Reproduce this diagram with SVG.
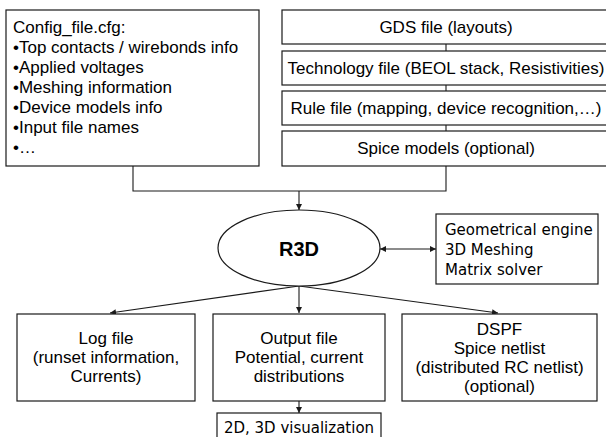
<svg xmlns="http://www.w3.org/2000/svg" width="606" height="437" viewBox="0 0 606 437">
  <defs>
    <style>
      .box { fill: #ffffff; stroke: #1a1a1a; stroke-width: 1.2; }
      .conn { fill: none; stroke: #1a1a1a; stroke-width: 1.1; }
      .t { font-family: "Liberation Sans", Arial, sans-serif; font-size: 17px; fill: #000; }
      .c { text-anchor: middle; }
      .th { font-family: "DejaVu Sans", Verdana, sans-serif; font-size: 15px; fill: #000; }
      .b { font-family: "Liberation Sans", Arial, sans-serif; font-size: 20px; font-weight: bold; fill: #000; text-anchor: middle; }
    </style>
    <marker id="arr" viewBox="0 0 10 10" refX="10" refY="5" markerWidth="6" markerHeight="6" markerUnits="userSpaceOnUse" orient="auto">
      <path d="M0,0 L10,5 L0,10 z" fill="#1a1a1a"/>
    </marker>
    <marker id="arrs" viewBox="0 0 10 10" refX="0" refY="5" markerWidth="6" markerHeight="6" markerUnits="userSpaceOnUse" orient="auto">
      <path d="M10,0 L0,5 L10,10 z" fill="#1a1a1a"/>
    </marker>
  </defs>
  <rect width="606" height="437" fill="#ffffff"/>

  <g id="connectors">
    <path class="conn" d="M446,44 V51 M446,85 V91 M446,125 V131"/>
    <path class="conn" d="M133,166 V191 H446 V166"/>
    <path class="conn" d="M299,191 V210" marker-end="url(#arr)"/>
    <path class="conn" d="M380,249 H436" marker-start="url(#arrs)" marker-end="url(#arr)"/>
    <path class="conn" d="M299,286 L110,313" marker-end="url(#arr)"/>
    <path class="conn" d="M299,286 V313" marker-end="url(#arr)"/>
    <path class="conn" d="M299,286 L498,313" marker-end="url(#arr)"/>
    <path class="conn" d="M299,401 V413" marker-end="url(#arr)"/>
  </g>

  <g id="config">
    <rect class="box" x="6" y="10" width="253" height="156"/>
    <text class="t" x="13" y="33">Config_file.cfg:</text>
    <text class="t" x="13" y="53">•Top contacts / wirebonds info</text>
    <text class="t" x="13" y="73">•Applied voltages</text>
    <text class="t" x="13" y="93">•Meshing information</text>
    <text class="t" x="13" y="113">•Device models info</text>
    <text class="t" x="13" y="133">•Input file names</text>
    <text class="t" x="13" y="153">•…</text>
  </g>

  <g id="gds">
    <rect class="box" x="282" y="10" width="328" height="34"/>
    <text class="t c" x="446" y="33">GDS file (layouts)</text>
  </g>
  <g id="technology">
    <rect class="box" x="282" y="51" width="328" height="34"/>
    <text class="t c" x="446" y="74">Technology file (BEOL stack, Resistivities)</text>
  </g>
  <g id="rule">
    <rect class="box" x="282" y="91" width="328" height="34"/>
    <text class="t c" x="446" y="114">Rule file (mapping, device recognition,…)</text>
  </g>
  <g id="spice">
    <rect class="box" x="282" y="131" width="328" height="35"/>
    <text class="t c" x="446" y="154">Spice models (optional)</text>
  </g>

  <g id="r3d">
    <ellipse class="box" cx="299" cy="248" rx="81" ry="38"/>
    <text class="b" x="299" y="256">R3D</text>
  </g>

  <g id="engine">
    <rect class="box" x="436" y="214" width="162" height="70"/>
    <text class="th" x="445" y="235">Geometrical engine</text>
    <text class="th" x="445" y="255">3D Meshing</text>
    <text class="th" x="445" y="275">Matrix solver</text>
  </g>

  <g id="log">
    <rect class="box" x="17" y="314" width="178" height="87"/>
    <text class="t c" x="106" y="344">Log file</text>
    <text class="t c" x="106" y="363">(runset information,</text>
    <text class="t c" x="106" y="382">Currents)</text>
  </g>

  <g id="output">
    <rect class="box" x="213" y="314" width="172" height="87"/>
    <text class="t c" x="299" y="344">Output file</text>
    <text class="t c" x="299" y="363">Potential, current</text>
    <text class="t c" x="299" y="382">distributions</text>
  </g>

  <g id="dspf">
    <rect class="box" x="402" y="314" width="195" height="87"/>
    <text class="t c" x="499.5" y="335">DSPF</text>
    <text class="t c" x="499.5" y="354">Spice netlist</text>
    <text class="t c" x="499.5" y="373">(distributed RC netlist)</text>
    <text class="t c" x="499.5" y="392">(optional)</text>
  </g>

  <g id="visualization">
    <rect class="box" x="217" y="413" width="164" height="30"/>
    <text class="th c" x="299" y="433">2D, 3D visualization</text>
  </g>
</svg>
